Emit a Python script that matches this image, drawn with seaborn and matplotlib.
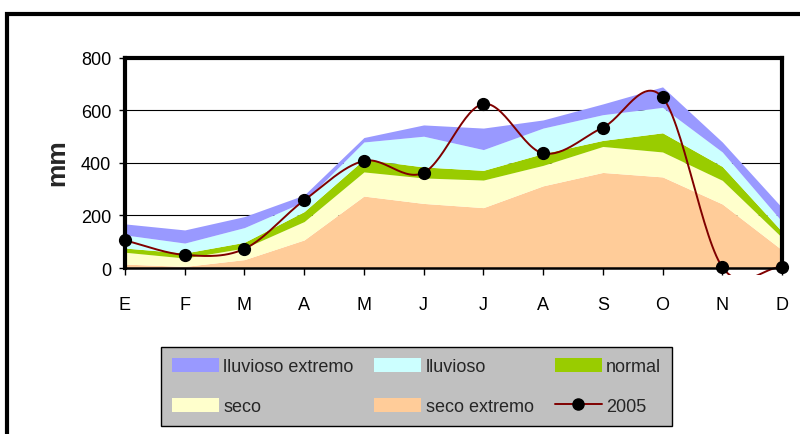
import numpy as np
import pandas as pd
import matplotlib
matplotlib.use("Agg")
import matplotlib.pyplot as plt
import seaborn as sns
from matplotlib.patches import Patch, Rectangle
from matplotlib.lines import Line2D

months = ["E", "F", "M", "A", "M", "J", "J", "A", "S", "O", "N", "D"]

# cumulative upper edge of each band (mm)
seco_extremo = [15, 6, 32, 107, 274, 246, 230, 313, 364, 347, 244, 69]
seco = [60, 38, 76, 177, 366, 343, 335, 391, 463, 442, 334, 116]
normal = [76, 57, 98, 215, 414, 385, 372, 436, 486, 515, 387, 139]
lluvioso = [126, 95, 154, 253, 480, 502, 451, 533, 584, 612, 442, 177]
lluvioso_extremo = [168, 145, 196, 278, 497, 545, 533, 564, 625, 690, 480, 230]

lluvia_2005 = [105, 50, 73, 258, 408, 363, 625, 437, 535, 650, 4, 4]

bands = [
    ("seco extremo", None, seco_extremo, "#FFCC99"),
    ("seco", seco_extremo, seco, "#FFFFCC"),
    ("normal", seco, normal, "#99CC00"),
    ("lluvioso", normal, lluvioso, "#CCFFFF"),
    ("lluvioso extremo", lluvioso, lluvioso_extremo, "#9999FF"),
]


def smooth_curve(y, n=30):
    # Excel-style smoothed line (Catmull-Rom segments between the points)
    y = np.asarray(y, dtype=float)
    m = np.zeros_like(y)
    m[1:-1] = (y[2:] - y[:-2]) / 2
    m[0] = y[1] - y[0]
    m[-1] = y[-1] - y[-2]
    xs, ys = [], []
    for i in range(len(y) - 1):
        t = np.linspace(0, 1, n, endpoint=False)
        h00 = 2 * t**3 - 3 * t**2 + 1
        h10 = t**3 - 2 * t**2 + t
        h01 = -2 * t**3 + 3 * t**2
        h11 = t**3 - t**2
        xs.extend(i + t)
        ys.extend(h00 * y[i] + h10 * m[i] + h01 * y[i + 1] + h11 * m[i + 1])
    xs.append(len(y) - 1)
    ys.append(y[-1])
    return np.array(xs), np.array(ys)


sns.set_theme(style="white")
plt.rcParams["font.family"] = ["Liberation Sans", "DejaVu Sans"]

fig = plt.figure(figsize=(8, 4.35), dpi=100)
ax = fig.add_axes([0.15625, 0.3816, 0.82125, 0.4828])

x = np.arange(len(months))
for label, low, high, color in bands:
    base = np.zeros(len(x)) if low is None else np.array(low)
    ax.fill_between(x, base, high, color=color, lw=0, zorder=2)

for v in [200, 400, 600]:
    ax.axhline(v, color="black", lw=0.8, zorder=1)

xs, ys = smooth_curve(lluvia_2005)
curve = pd.DataFrame({"x": xs, "y": ys})
sns.lineplot(data=curve, x="x", y="y", color="#800000", lw=1.4,
             estimator=None, sort=False, ax=ax, zorder=4)
clip = Rectangle((0, -0.035), 1, 1.1, transform=ax.transAxes, fill=False)
ax.lines[-1].set_clip_path(clip)

ax.plot(x, lluvia_2005, ls="none", marker="o", ms=8.5, color="black",
        zorder=5, clip_on=False)

ax.set_xlim(0, 11)
ax.set_ylim(0, 800)
ax.set_xticks(x)
ax.set_xticklabels(months)
ax.set_yticks([0, 200, 400, 600, 800])
ax.set_xlabel("")
ax.set_ylabel("")
ax.tick_params(axis="x", bottom=True, length=5, width=1, color="black",
               pad=15, labelsize=13, labelcolor="black")
ax.tick_params(axis="y", left=True, length=4, width=1, color="black",
               pad=6, labelsize=13, labelcolor="black")

for side in ["left", "top", "right"]:
    ax.spines[side].set_color("black")
    ax.spines[side].set_linewidth(3)
ax.spines["bottom"].set_color("black")
ax.spines["bottom"].set_linewidth(1.8)
for s in ax.spines.values():
    s.set_zorder(6)

fig.text(57 / 800, 1 - 163 / 435, "mm", rotation=90, fontsize=19,
         fontweight="bold", ha="center", va="center")

handles = [
    Patch(facecolor="#9999FF", edgecolor="none", label="lluvioso extremo"),
    Patch(facecolor="#FFFFCC", edgecolor="none", label="seco"),
    Patch(facecolor="#CCFFFF", edgecolor="none", label="lluvioso"),
    Patch(facecolor="#FFCC99", edgecolor="none", label="seco extremo"),
    Patch(facecolor="#99CC00", edgecolor="none", label="normal"),
    Line2D([], [], color="#800000", lw=1.4, marker="o", ms=8,
           markerfacecolor="black", markeredgecolor="black", label="2005"),
]
leg = fig.legend(handles=handles, ncol=3, loc="lower left", mode="expand",
                 bbox_to_anchor=(161 / 800, 1 - 427 / 435, 511 / 800, 81 / 435),
                 bbox_transform=fig.transFigure, fontsize=13, frameon=True,
                 fancybox=False, facecolor="#C0C0C0", edgecolor="black",
                 framealpha=1, handlelength=2.6, handleheight=0.85,
                 handletextpad=0.25, labelspacing=1.25, borderpad=0.6,
                 borderaxespad=0)
leg.get_frame().set_linewidth(1)

fig.patches.append(Rectangle((6.5 / 800, -0.5), 2, 0.5 + (1 - 15 / 435),
                             transform=fig.transFigure, fill=False,
                             edgecolor="black", lw=3))

fig.savefig("out.png", dpi=100, facecolor="white")
